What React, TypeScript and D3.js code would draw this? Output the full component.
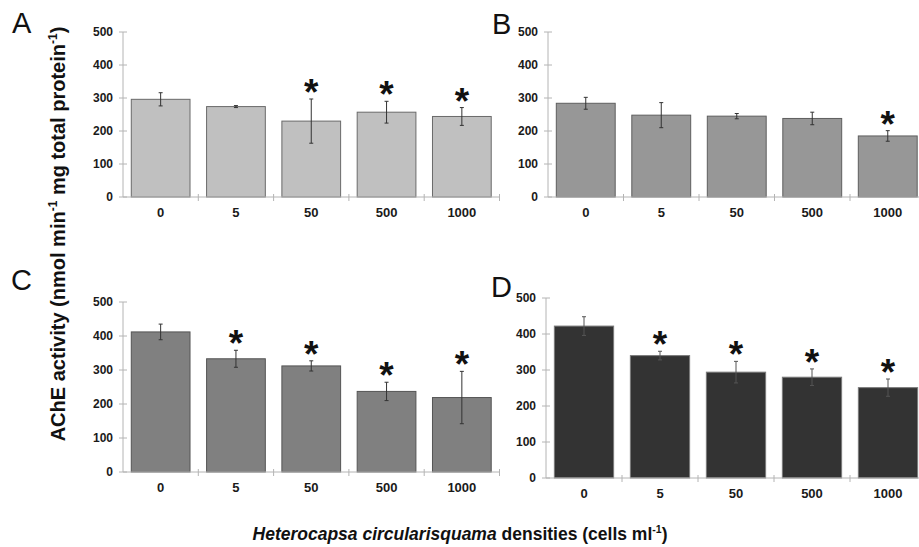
import React from "react";
import * as d3 from "d3";

const categories = ["0", "5", "50", "500", "1000"];
const yTicks = [0, 100, 200, 300, 400, 500];

const meansA = [296, 274, 230, 257, 244];
const errA = [20, 3, 67, 33, 27];
const sigA = [false, false, true, true, true];

const meansB = [284, 248, 245, 238, 185];
const errB = [18, 38, 8, 19, 16];
const sigB = [false, false, false, false, true];

const meansC = [412, 333, 312, 237, 219];
const errC = [23, 25, 15, 27, 77];
const sigC = [false, true, true, true, true];

const meansD = [422, 340, 294, 280, 251];
const errD = [26, 12, 30, 23, 24];
const sigD = [false, true, true, true, true];

const FONT = "'Liberation Sans', Arial, Helvetica, sans-serif";

type PanelCfg = {
  label: string;
  means: number[];
  errs: number[];
  sig: boolean[];
  fill: string;
  stroke: string;
  errColor: string;
  x0: number;
  x1: number;
  yTop: number;
  yBottom: number;
  labelX: number;
  labelY: number;
};

const panels: PanelCfg[] = [
  { label: "A", means: meansA, errs: errA, sig: sigA, fill: "#c0c0c0", stroke: "#6a6a6a", errColor: "#333", x0: 123, x1: 499.5, yTop: 32, yBottom: 197, labelX: 12, labelY: 33 },
  { label: "B", means: meansB, errs: errB, sig: sigB, fill: "#979797", stroke: "#5e5e5e", errColor: "#333", x0: 548, x1: 925.5, yTop: 32, yBottom: 197, labelX: 492, labelY: 34 },
  { label: "C", means: meansC, errs: errC, sig: sigC, fill: "#808080", stroke: "#555", errColor: "#333", x0: 123, x1: 499.5, yTop: 302, yBottom: 472, labelX: 11, labelY: 290 },
  { label: "D", means: meansD, errs: errD, sig: sigD, fill: "#333333", stroke: "#7a7a7a", errColor: "#555", x0: 546, x1: 926, yTop: 298, yBottom: 478, labelX: 491, labelY: 297 },
];

function Panel({ p }: { p: PanelCfg }) {
  const x = d3
    .scaleBand<string>()
    .domain(categories)
    .range([p.x0, p.x1])
    .paddingInner(0.22)
    .paddingOuter(0.11);
  const y = d3.scaleLinear().domain([0, 500]).range([p.yBottom, p.yTop]);
  const step = x.step();
  const bw = x.bandwidth();
  const axisColor = "#b4b4b4";
  const astSize = 37;
  return (
    <g>
      <text x={p.labelX} y={p.labelY} fontFamily={FONT} fontSize={29} fill="#111">
        {p.label}
      </text>
      {/* y axis */}
      <line x1={p.x0} x2={p.x0} y1={y(500)} y2={y(0)} stroke={axisColor} strokeWidth={1} />
      {yTicks.map((t) => (
        <g key={t}>
          <line x1={p.x0 - 4} x2={p.x0 + 4} y1={y(t)} y2={y(t)} stroke={axisColor} strokeWidth={1} />
          <text
            x={p.x0 - 10}
            y={y(t)}
            dy="0.36em"
            textAnchor="end"
            fontFamily={FONT}
            fontWeight="bold"
            fontSize={12}
            fill="#1a1a1a"
          >
            {t}
          </text>
        </g>
      ))}
      {/* bars */}
      {categories.map((c, i) => {
        const m = p.means[i];
        const e = p.errs[i];
        const bx = x(c)!;
        const cx = bx + bw / 2;
        return (
          <g key={c}>
            <rect
              x={bx}
              y={y(m)}
              width={bw}
              height={y(0) - y(m)}
              fill={p.fill}
              stroke={p.stroke}
              strokeWidth={1}
            />
            <line x1={cx} x2={cx} y1={y(m + e)} y2={y(m - e)} stroke={p.errColor} strokeWidth={1} />
            <line x1={cx - 2} x2={cx + 2} y1={y(m + e)} y2={y(m + e)} stroke={p.errColor} strokeWidth={1} />
            <line x1={cx - 2} x2={cx + 2} y1={y(m - e)} y2={y(m - e)} stroke={p.errColor} strokeWidth={1} />
            {p.sig[i] && (
              <text
                x={cx}
                y={y(m + e) - 8 + 0.38 * astSize}
                textAnchor="middle"
                fontFamily={FONT}
                fontWeight="bold"
                fontSize={astSize}
                fill="#111"
              >
                *
              </text>
            )}
            <text
              x={cx}
              y={p.yBottom + 20}
              textAnchor="middle"
              fontFamily={FONT}
              fontWeight="bold"
              fontSize={13}
              fill="#1a1a1a"
            >
              {c}
            </text>
          </g>
        );
      })}
      {/* x axis */}
      <line x1={p.x0} x2={p.x1} y1={y(0)} y2={y(0)} stroke={axisColor} strokeWidth={1} />
      {categories.map((c, i) => (
        <line
          key={"t" + c}
          x1={p.x0 + step * (i + 1)}
          x2={p.x0 + step * (i + 1)}
          y1={y(0) - 3}
          y2={y(0) + 4}
          stroke={axisColor}
          strokeWidth={1}
        />
      ))}
    </g>
  );
}

export default function App() {
  return (
    <svg
      width={919}
      height={547}
      style={{ position: "absolute", left: 0, top: 0, background: "#fff" }}
    >
      <rect x={0} y={0} width={919} height={547} fill="#fff" />
      {panels.map((p) => (
        <Panel key={p.label} p={p} />
      ))}
      <text
        transform="translate(65,234) rotate(-90)"
        textAnchor="middle"
        fontFamily={FONT}
        fontWeight="bold"
        fontSize={20}
        fill="#111"
      >
        AChE activity (nmol min
        <tspan fontSize={12} dy={-8}>-1</tspan>
        <tspan dy={8}> mg total protein</tspan>
        <tspan fontSize={12} dy={-8}>-1</tspan>
        <tspan dy={8}>)</tspan>
      </text>
      <text
        x={460}
        y={540}
        textAnchor="middle"
        fontFamily={FONT}
        fontWeight="bold"
        fontSize={17.5}
        fill="#111"
      >
        <tspan fontStyle="italic">Heterocapsa circularisquama</tspan>
        <tspan> densities (cells ml</tspan>
        <tspan fontSize={10.5} dy={-7}>-1</tspan>
        <tspan dy={7}>)</tspan>
      </text>
    </svg>
  );
}
